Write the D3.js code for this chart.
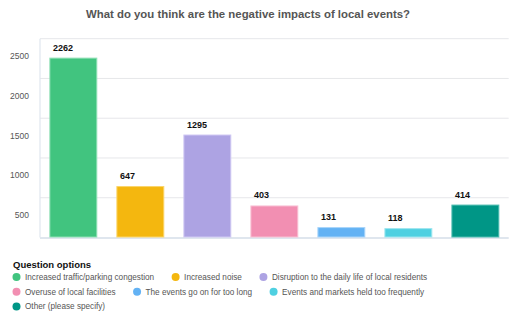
<!DOCTYPE html>
<html>
<head>
<meta charset="utf-8">
<script src="https://cdn.jsdelivr.net/npm/d3@7"></script>
<style>
  body { margin: 0; background: #fff; font-family: "Liberation Sans", Arial, sans-serif; }
  svg { display: block; }
</style>
</head>
<body>
<div id="container"><svg></svg></div>
<script>
let width = 519;
let height = 321;

let title = 'What do you think are the negative impacts of local events?';
let legend_title = 'Question options';
let options = [
    'Increased traffic/parking congestion',
    'Increased noise',
    'Disruption to the daily life of local residents',
    'Overuse of local facilities',
    'The events go on for too long',
    'Events and markets held too frequently',
    'Other (please specify)'
];
let counts = [2262, 647, 1295, 403, 131, 118, 414];
let y_ticks = [500, 1000, 1500, 2000, 2500];
let colors = ['#41c47f', '#f4b70f', '#ada3e3', '#f28fb2', '#63b2f4', '#4fd0e1', '#009686'];
let borders = ['#8fe0b5', '#fbd56a', '#cfc8f3', '#f8c0d3', '#a8d4fa', '#9de6ef', '#4dbcb0'];

function draw_chart() {
    let padding = {'left': 40, 'right': 10.3, 'top': 38.7, 'bottom': 83.5};

    let svg = d3.select('#container')
        .select('svg')
        .attr('width', width)
        .attr('height', height);

    // title
    svg.append('text')
        .attr('x', 248)
        .attr('y', 18)
        .attr('text-anchor', 'middle')
        .attr('fill', '#555')
        .attr('font-weight', 'bold')
        .attr('font-size', '11.4px')
        .text(title);

    let x = d3.scaleBand()
        .domain(options)
        .range([padding.left, width - padding.right])
        .paddingInner(0.285)
        .paddingOuter(0.14);
    let y = d3.scaleLinear()
        .domain([0, 2500])
        .range([height - padding.bottom, padding.top]);

    // grid lines
    svg.append('g')
        .selectAll('line')
        .data(y_ticks)
        .enter()
        .append('line')
        .attr('x1', padding.left)
        .attr('x2', width - padding.right)
        .attr('y1', d => y(d))
        .attr('y2', d => y(d))
        .attr('stroke', '#e6e7ea')
        .attr('stroke-width', 1);

    // y labels sit halfway under their grid line
    svg.append('g')
        .selectAll('text')
        .data(y_ticks)
        .enter()
        .append('text')
        .attr('x', 29)
        .attr('y', d => y(d) + 17.5)
        .attr('dy', '0.35em')
        .attr('text-anchor', 'end')
        .attr('fill', '#555')
        .attr('font-size', '8.5px')
        .text(d => d);

    // axis frame
    svg.append('line')
        .attr('x1', padding.left).attr('x2', padding.left)
        .attr('y1', padding.top).attr('y2', y(0))
        .attr('stroke', '#dfe6ee').attr('stroke-width', 1.2);
    svg.append('line')
        .attr('x1', padding.left).attr('x2', width - padding.right)
        .attr('y1', y(0) + 0.5).attr('y2', y(0) + 0.5)
        .attr('stroke', '#dfe6ee').attr('stroke-width', 1.8);

    // bars
    let bars = svg.append('g')
        .selectAll('g')
        .data(counts)
        .enter()
        .append('g');
    bars.append('rect')
        .attr('x', (d, i) => x(options[i]) + 0.5)
        .attr('y', d => y(d) + 0.5)
        .attr('width', x.bandwidth() - 1)
        .attr('height', d => y(0) - y(d) - 1)
        .attr('fill', (d, i) => colors[i])
        .attr('stroke', (d, i) => borders[i])
        .attr('stroke-width', 1);
    bars.append('text')
        .attr('x', (d, i) => x(options[i]) + 3.5)
        .attr('y', d => y(d) - 7)
        .attr('fill', '#111')
        .attr('font-weight', 'bold')
        .attr('font-size', '9px')
        .text(d => d);

    // legend
    let legend = svg.append('g');
    legend.append('text')
        .attr('x', 13)
        .attr('y', 267.5)
        .attr('fill', '#111')
        .attr('font-weight', 'bold')
        .attr('font-size', '9.5px')
        .text(legend_title);

    let cx = 16.5;
    let row_y = 277;
    let max_x = 460;
    for (var i = 0; i < options.length; ++i) {
        let item = legend.append('g');
        item.append('circle')
            .attr('r', 4)
            .attr('fill', colors[i]);
        let label = item.append('text')
            .attr('x', 8.5)
            .attr('dy', '0.35em')
            .attr('fill', '#555')
            .attr('font-size', '8.2px')
            .text(options[i]);
        let w = 8.5 + label.node().getComputedTextLength();
        if (cx + w > max_x && i > 0) {
            cx = 16.5;
            row_y += 14.7;
        }
        item.attr('transform', 'translate(' + cx + ',' + row_y + ')');
        cx += w + 21.5;
    }
}

draw_chart();
</script>
</body>
</html>
